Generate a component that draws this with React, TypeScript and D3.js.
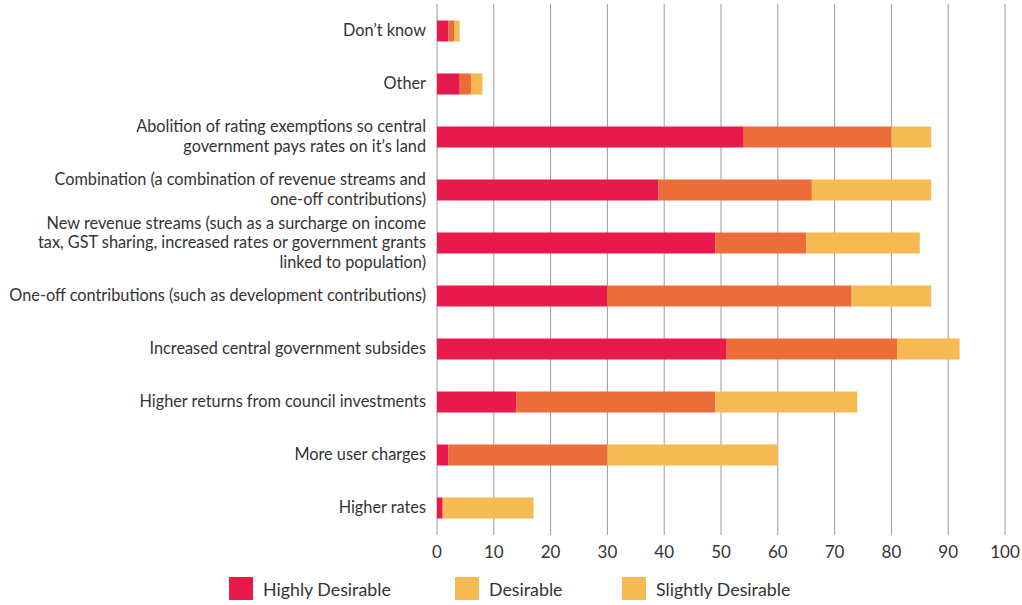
import React, { useEffect } from "react";
import * as d3 from "d3";

const categories = [
  "Don’t know",
  "Other",
  "Abolition of rating exemptions so central\ngovernment pays rates on it’s land",
  "Combination (a combination of revenue streams and\none-off contributions)",
  "New revenue streams (such as a surcharge on income\ntax, GST sharing, increased rates or government grants\nlinked to population)",
  "One-off contributions (such as development contributions)",
  "Increased central government subsides",
  "Higher returns from council investments",
  "More user charges",
  "Higher rates",
];
const highlyDesirable = [2, 4, 54, 39, 49, 30, 51, 14, 2, 1];
const desirable = [1, 2, 26, 27, 16, 43, 30, 35, 28, 0];
const slightlyDesirable = [1, 2, 7, 21, 20, 14, 11, 25, 30, 16];
const seriesNames = ["Highly Desirable", "Desirable", "Slightly Desirable"];
const seriesColors = ["#E8194B", "#EC6C3A", "#F5BA52"];
const legendColors = ["#E8194B", "#F5BA52", "#F5BA52"];
const xTicks = [0, 10, 20, 30, 40, 50, 60, 70, 80, 90, 100];

const W = 1022;
const H = 605;
const FONT = "Lato, 'Open Sans', sans-serif";

export default function App() {
  useEffect(() => {
    document.body.style.margin = "0";
  }, []);

  const x = d3.scaleLinear().domain([0, 100]).range([437, 1005]);
  const y = d3.scalePoint<string>().domain(categories).range([31, 508]).padding(0);
  const barH = 21;

  const rows = categories.map((c, i) => ({
    cat: c,
    Highly: highlyDesirable[i],
    Desirable: desirable[i],
    Slightly: slightlyDesirable[i],
  }));
  const stack = d3.stack<any>().keys(["Highly", "Desirable", "Slightly"]);
  const series = stack(rows);

  const legendX = [229, 455, 622];

  return (
    <svg width={W} height={H} style={{ display: "block", background: "#fff" }}>
      {xTicks.map((t) => (
        <line key={"g" + t} x1={x(t)} x2={x(t)} y1={4} y2={535} stroke="#9a9a9a" strokeWidth={1} />
      ))}
      {series.map((s, si) =>
        s.map((d, i) => (
          <rect
            key={si + "-" + i}
            x={x(d[0])}
            y={(y(categories[i]) as number) - barH / 2}
            width={Math.max(0, x(d[1]) - x(d[0]))}
            height={barH}
            fill={seriesColors[si]}
          />
        ))
      )}
      {categories.map((c) => {
        const lines = c.split("\n");
        const cy = (y(c) as number) - 1.5;
        const lh = 19.5;
        return (
          <text key={c} x={426} textAnchor="end" fontFamily={FONT} fontSize={16.3} fill="#333">
            {lines.map((l, li) => (
              <tspan key={li} x={426} y={cy + (li - (lines.length - 1) / 2) * lh} dominantBaseline="central">
                {l}
              </tspan>
            ))}
          </text>
        );
      })}
      {xTicks.map((t) => (
        <text key={"t" + t} x={x(t)} y={551} textAnchor="middle" dominantBaseline="central" fontFamily={FONT} fontSize={17} fill="#333">
          {t}
        </text>
      ))}
      {seriesNames.map((n, i) => (
        <g key={n}>
          <rect x={legendX[i]} y={577} width={24} height={23} fill={legendColors[i]} />
          <text x={legendX[i] + 34} y={588.5} dominantBaseline="central" fontFamily={FONT} fontSize={17.8} fill="#333">
            {n}
          </text>
        </g>
      ))}
    </svg>
  );
}
